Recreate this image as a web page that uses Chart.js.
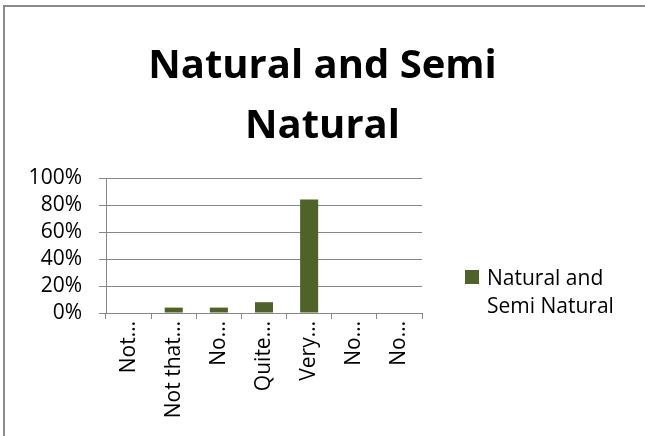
<!DOCTYPE html>
<html>
<head>
<meta charset="utf-8">
<script src="https://cdn.jsdelivr.net/npm/chart.js@4.4.1/dist/chart.umd.min.js"></script>
<style>
  html, body { margin: 0; padding: 0; background: #fff; overflow: hidden; }
  #wrap { position: relative; width: 645px; height: 436px; overflow: hidden; }
  #frame { position: absolute; left: 3px; top: 5px; width: 700px; height: 500px;
           border: 2px solid #8c8c8c; pointer-events: none; }
  #chart { position: absolute; left: 0; top: 0; }
  #legend { position: absolute; left: 465px; top: 263px; font-family: 'Open Sans', sans-serif;
            font-size: 21px; color: #000; line-height: 28px; white-space: nowrap; }
  #legend .box { position: absolute; left: 0; top: 7px; width: 14px; height: 14px; background: #4f6228; }
  #legend .txt { margin-left: 22px; }
</style>
</head>
<body>
<div id="wrap">
  <canvas id="chart" width="645" height="436"></canvas>
  <div id="frame"></div>
  <div id="legend"><span class="box"></span><div class="txt">Natural and<br>Semi Natural</div></div>
</div>
<script>
/* Données du graphique */
const categories = ['Not…', 'Not that…', 'No…', 'Quite…', 'Very…', 'No…', 'No…'];
const values = [0, 0.04, 0.04, 0.08, 0.84, 0, 0];
const yTicks = [0, 0.2, 0.4, 0.6, 0.8, 1];
const seriesName = 'Natural and Semi Natural';
const titleLines = ['Natural and Semi', 'Natural'];

const GRID = '#878787';
const FONT = "'Open Sans', sans-serif";

const ctx = document.getElementById('chart').getContext('2d');

new Chart(ctx, {
  type: 'bar',
  data: {
    labels: categories,
    datasets: [{
      label: seriesName,
      data: values,
      backgroundColor: '#4f6228',
      borderWidth: 0,
      categoryPercentage: 0.8,
      barPercentage: 0.5
    }]
  },
  options: {
    responsive: false,
    animation: false,
    layout: { padding: 0 },
    plugins: {
      legend: { display: false },
      tooltip: { enabled: false },
      title: {
        display: true,
        text: titleLines,
        color: '#000',
        font: { family: FONT, size: 40, weight: 'bold', lineHeight: 1.5 },
        padding: { top: 37, bottom: 21 }
      }
    },
    scales: {
      x: {
        grid: { display: true, drawOnChartArea: false, drawTicks: true, tickLength: 6, color: GRID, offset: true },
        border: { display: true, color: GRID, width: 1 },
        ticks: {
          color: '#000', font: { family: FONT, size: 21 },
          minRotation: 90, maxRotation: 90, autoSkip: false, padding: 2
        },
        afterFit: s => { s.height = 123; }
      },
      y: {
        min: 0, max: 1,
        afterBuildTicks: s => { s.ticks = yTicks.map(v => ({ value: v })); },
        grid: { color: GRID, drawTicks: true, tickLength: 7 },
        border: { display: true, color: GRID, width: 1 },
        ticks: {
          color: '#000', font: { family: FONT, size: 21 }, padding: 17, autoSkip: false,
          callback: v => Math.round(v * 100) + '%'
        },
        afterFit: s => { s.width = 106; }
      },
      // axe fantôme pour réserver la place de la légende
      yRight: {
        position: 'right', display: true,
        grid: { display: false }, border: { display: false },
        ticks: { display: false },
        afterFit: s => { s.width = 223; }
      }
    }
  }
});
</script>
</body>
</html>
